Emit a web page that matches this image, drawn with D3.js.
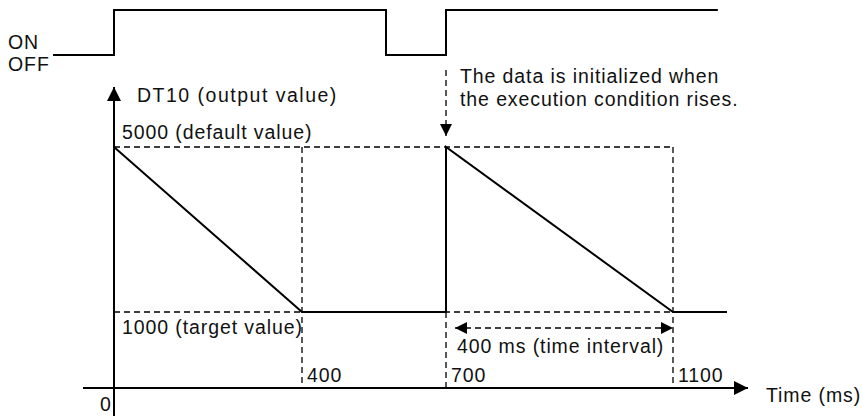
<!DOCTYPE html>
<html>
<head>
<meta charset="utf-8">
<script src="https://cdn.jsdelivr.net/npm/d3@7"></script>
<style>
  body { margin: 0; background: #fff; }
  text { font-family: "Liberation Sans", Arial, sans-serif; font-size: 19.5px; letter-spacing: 0.9px; fill: #111; }
</style>
</head>
<body>
<div id="chart"></div>
<script>
// timing chart data
const timeTicks = [0, 400, 700, 1100];
const outTimes = [0, 400, 700, 700, 1100, 1200];
const outValues = [5000, 1000, 1000, 5000, 1000, 1000];
const sigTimes = [-130, 0, 0, 575, 575, 700, 700, 1183];
const sigStates = [0, 0, 1, 1, 0, 0, 1, 1];
const valueMarks = [5000, 1000];
const valueLabels = ["5000 (default value)", "1000 (target value)"];

const width = 862, height = 416;

// diagram is not drawn to scale, so use piecewise scales
const x = d3.scaleLinear()
  .domain([-130, 0, 400, 700, 1100, 1200])
  .range([53, 114, 302, 446, 673, 727]);
const y = d3.scaleLinear()
  .domain([0, 1000, 5000])
  .range([388, 312, 147]);
const ys = d3.scaleLinear().domain([0, 1]).range([55, 10]);

const svg = d3.select("#chart").append("svg")
  .attr("width", width)
  .attr("height", height);

const defs = svg.append("defs");
function marker(id, w, h) {
  defs.append("marker")
    .attr("id", id)
    .attr("viewBox", "0 0 10 10")
    .attr("refX", 10).attr("refY", 5)
    .attr("markerUnits", "userSpaceOnUse")
    .attr("markerWidth", w).attr("markerHeight", h)
    .attr("orient", "auto-start-reverse")
    .append("path")
      .attr("d", "M0,0L10,5L0,10Z")
      .attr("fill", "#000");
}
marker("arr", 14, 15);
marker("arrS", 12, 13);

const dash = "6,4";

// dashed guides
const g = svg.append("g")
  .attr("stroke", "#000")
  .attr("stroke-width", 1.3)
  .attr("stroke-dasharray", dash)
  .attr("fill", "none");

g.append("line")
  .attr("x1", x(0)).attr("x2", x(1100))
  .attr("y1", y(5000)).attr("y2", y(5000));
g.append("line")
  .attr("x1", x(0)).attr("x2", x(1100))
  .attr("y1", y(1000)).attr("y2", y(1000));
g.append("line")
  .attr("x1", x(400)).attr("x2", x(400))
  .attr("y1", y(5000)).attr("y2", y(0));
g.append("line")
  .attr("x1", x(700)).attr("x2", x(700))
  .attr("y1", y(1000)).attr("y2", y(0));
g.append("line")
  .attr("x1", x(1100)).attr("x2", x(1100))
  .attr("y1", y(5000)).attr("y2", y(0));

// initialization arrow
g.append("line")
  .attr("x1", x(700)).attr("x2", x(700))
  .attr("y1", 70).attr("y2", 136)
  .attr("marker-end", "url(#arrS)");

// time interval arrow
g.append("line")
  .attr("x1", x(700) + 9).attr("x2", x(1100))
  .attr("y1", 328).attr("y2", 328)
  .attr("marker-start", "url(#arrS)")
  .attr("marker-end", "url(#arrS)");

// axes
svg.append("line")
  .attr("x1", 83).attr("x2", 748)
  .attr("y1", y(0)).attr("y2", y(0))
  .attr("stroke", "#000").attr("stroke-width", 2)
  .attr("marker-end", "url(#arr)");
svg.append("line")
  .attr("x1", x(0)).attr("x2", x(0))
  .attr("y1", 416).attr("y2", 87)
  .attr("stroke", "#000").attr("stroke-width", 2)
  .attr("marker-end", "url(#arr)");

// output value line
const line = d3.line()
  .x((d, i) => x(outTimes[i]))
  .y(d => y(d));
svg.append("path")
  .datum(outValues)
  .attr("d", line)
  .attr("fill", "none")
  .attr("stroke", "#000")
  .attr("stroke-width", 2);

// execution condition signal
const sigLine = d3.line()
  .x((d, i) => x(sigTimes[i]))
  .y(d => ys(d));
svg.append("path")
  .datum(sigStates)
  .attr("d", sigLine)
  .attr("fill", "none")
  .attr("stroke", "#000")
  .attr("stroke-width", 2);

// labels
svg.append("text").attr("x", 8).attr("y", 49).text("ON");
svg.append("text").attr("x", 8).attr("y", 71).text("OFF");
svg.append("text").attr("x", 137).attr("y", 102)
  .style("letter-spacing", "1.5px")
  .text("DT10 (output value)");

valueMarks.forEach((v, i) => {
  svg.append("text")
    .attr("x", x(0) + 8)
    .attr("y", i === 0 ? y(v) - 8 : y(v) + 22)
    .text(valueLabels[i]);
});

timeTicks.forEach(t => {
  svg.append("text")
    .attr("x", t === 0 ? x(0) - 14 : x(t) + 5)
    .attr("y", t === 0 ? 411 : y(0) - 6)
    .text(t);
});

svg.append("text").attr("x", 766).attr("y", 402).text("Time (ms)");
svg.append("text").attr("x", x(700) + 11).attr("y", 353).text("400 ms (time interval)");
svg.append("text").attr("x", 460).attr("y", 83).text("The data is initialized when");
svg.append("text").attr("x", 460).attr("y", 106).text("the execution condition rises.");
</script>
</body>
</html>
